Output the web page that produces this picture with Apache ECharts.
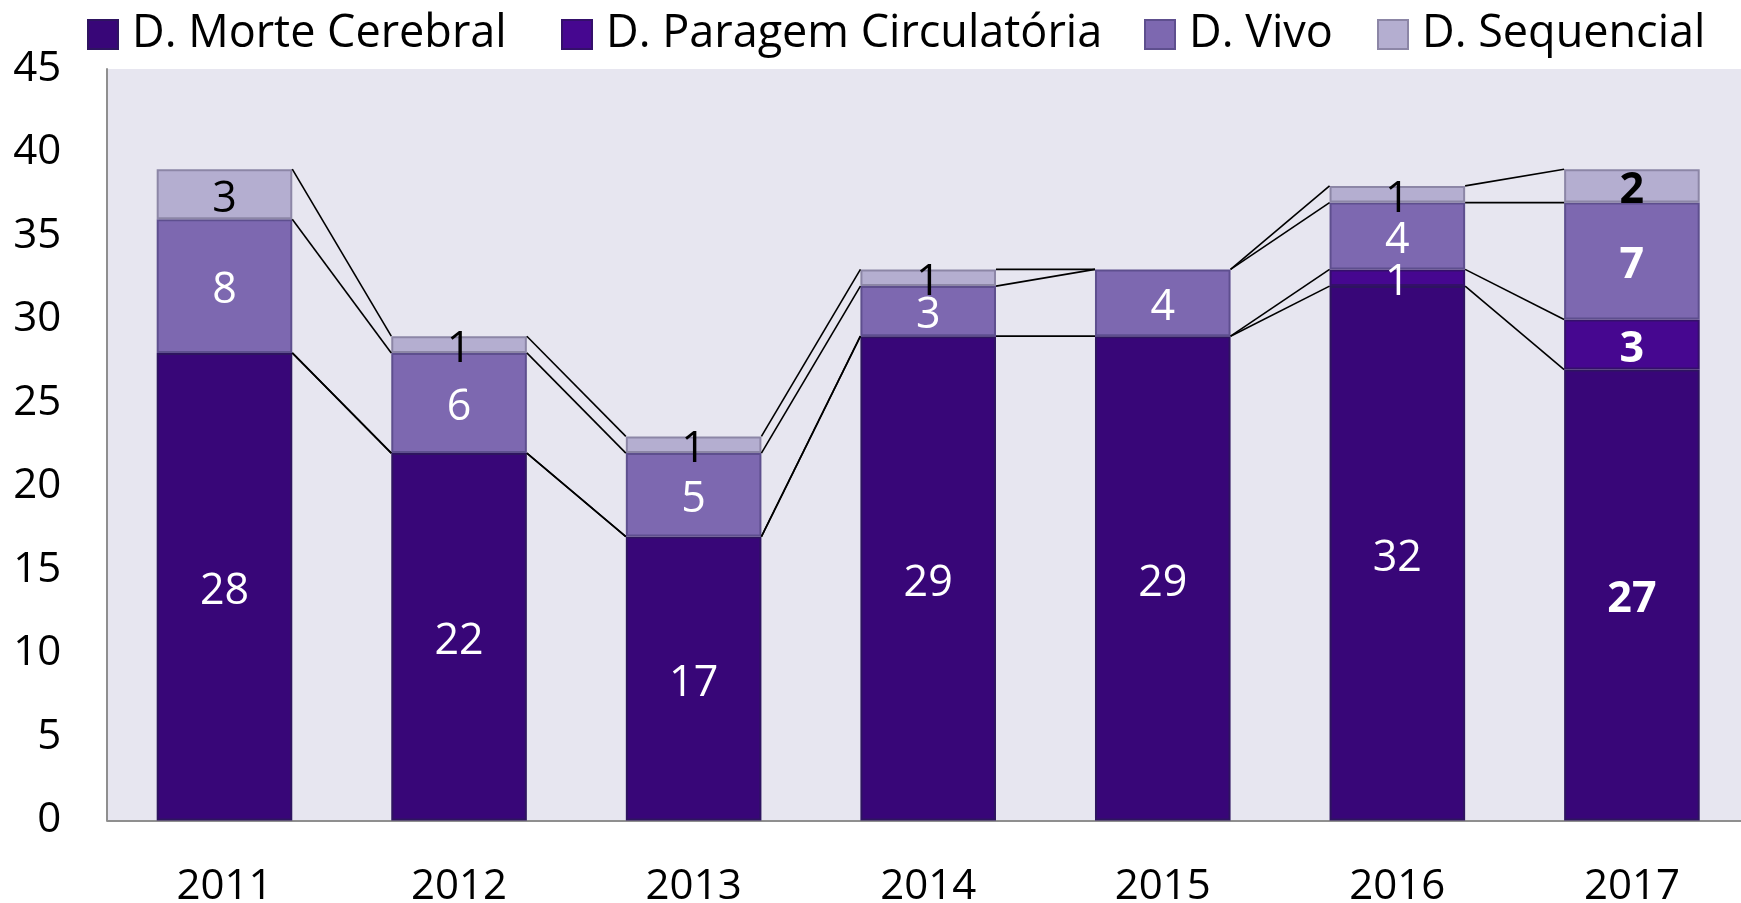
<!DOCTYPE html>
<html>
<head>
<meta charset="utf-8">
<script src="https://cdn.jsdelivr.net/npm/echarts@6/dist/echarts.min.js"></script>
<style>
html,body{margin:0;padding:0;background:#fff;}
#chart{width:1741px;height:903px;}
</style>
</head>
<body>
<div id="chart"></div>
<script>
// ---- data ----
const categories = ['2011', '2012', '2013', '2014', '2015', '2016', '2017'];
const morteCerebral = [28, 22, 17, 29, 29, 32, 27];
const paragemCirculatoria = [0, 0, 0, 0, 0, 1, 3];
const vivo = [8, 6, 5, 3, 4, 4, 7];
const sequencial = [3, 1, 1, 1, 0, 1, 2];
const seriesNames = ['D. Morte Cerebral', 'D. Paragem Circulatória', 'D. Vivo', 'D. Sequencial'];
const yMin = 0, yMax = 45, yInterval = 5;

// ---- styling ----
const FONT = 'Open Sans';
const AXIS_FS = 42;
const LABEL_FS = 43;
const LEGEND_FS = 45;
const colors = ['#380678', '#460790', '#7D68B0', '#B4AED0'];
const borders = ['#2e1460', '#34106a', '#5e4f8e', '#8c86a6'];
const labelColors = ['#ffffff', '#ffffff', '#ffffff', '#000000'];
const BAR_RATIO = 0.578;
const boldIndex = 6;

const allSeries = [morteCerebral, paragemCirculatoria, vivo, sequencial];

// cumulative tops for series lines
const cum = [];
let run = categories.map(() => 0);
allSeries.forEach(arr => {
  run = run.map((v, i) => v + arr[i]);
  cum.push(run.slice());
});

const chart = echarts.init(document.getElementById('chart'));

const barSeries = allSeries.map((arr, k) => ({
  name: seriesNames[k],
  type: 'bar',
  stack: 'total',
  barWidth: (BAR_RATIO * 100) + '%',
  itemStyle: { color: colors[k], borderColor: borders[k], borderWidth: 2 },
  label: {
    show: true,
    position: 'inside',
    offset: [0, 5],
    color: labelColors[k],
    fontFamily: FONT,
    fontSize: LABEL_FS,
    formatter: p => (p.value ? String(p.value) : '')
  },
  data: arr.map((v, i) => v === 0 ? '-' : (i === boldIndex ? { value: v, label: { fontWeight: 'bold' } } : v)),
  z: 2
}));

const seriesLines = {
  type: 'custom',
  silent: true,
  z: 3,
  encode: { x: 0, y: 1 },
  data: categories.slice(0, -1).map((c, i) => [i, 0]),
  renderItem: function (params, api) {
    const i = api.value(0);
    const bw = api.size([1, 0])[0] * BAR_RATIO;
    const children = cum.map(level => {
      const p0 = api.coord([i, level[i]]);
      const p1 = api.coord([i + 1, level[i + 1]]);
      return {
        type: 'line',
        shape: { x1: p0[0] + bw / 2, y1: p0[1], x2: p1[0] - bw / 2, y2: p1[1] },
        style: { stroke: '#000000', lineWidth: 1.6 }
      };
    });
    return { type: 'group', children: children };
  }
};

const legendLefts = [82, 556, 1139, 1372];
const legends = seriesNames.map((n, k) => ({
  data: [n],
  left: legendLefts[k],
  top: 7,
  itemWidth: 30,
  itemHeight: 29,
  icon: 'rect',
  selectedMode: false,
  textStyle: { fontFamily: FONT, fontSize: LEGEND_FS, color: '#000', lineHeight: 44, padding: [0, 0, 0, 9] }
}));

chart.setOption({
  animation: false,
  backgroundColor: '#ffffff',
  textStyle: { fontFamily: FONT },
  legend: legends,
  grid: {
    left: 107.2,
    top: 69,
    width: 1642,
    bottom: 82.5,
    outerBoundsMode: 'none',
    containLabel: false,
    show: true,
    backgroundColor: '#E7E6F0',
    borderWidth: 0
  },
  xAxis: {
    type: 'category',
    data: categories,
    axisTick: { show: false },
    axisLine: { lineStyle: { color: '#8f8f8f', width: 2 } },
    axisLabel: { color: '#000', fontFamily: FONT, fontSize: AXIS_FS, margin: 46 }
  },
  yAxis: {
    type: 'value',
    min: yMin,
    max: yMax,
    interval: yInterval,
    splitLine: { show: false },
    axisTick: { show: false },
    axisLine: { show: true, lineStyle: { color: '#8f8f8f', width: 2 } },
    axisLabel: { color: '#000', fontFamily: FONT, fontSize: AXIS_FS, margin: 46, padding: [4, 0, 0, 0] }
  },
  series: barSeries.concat([seriesLines])
});
</script>
</body>
</html>
